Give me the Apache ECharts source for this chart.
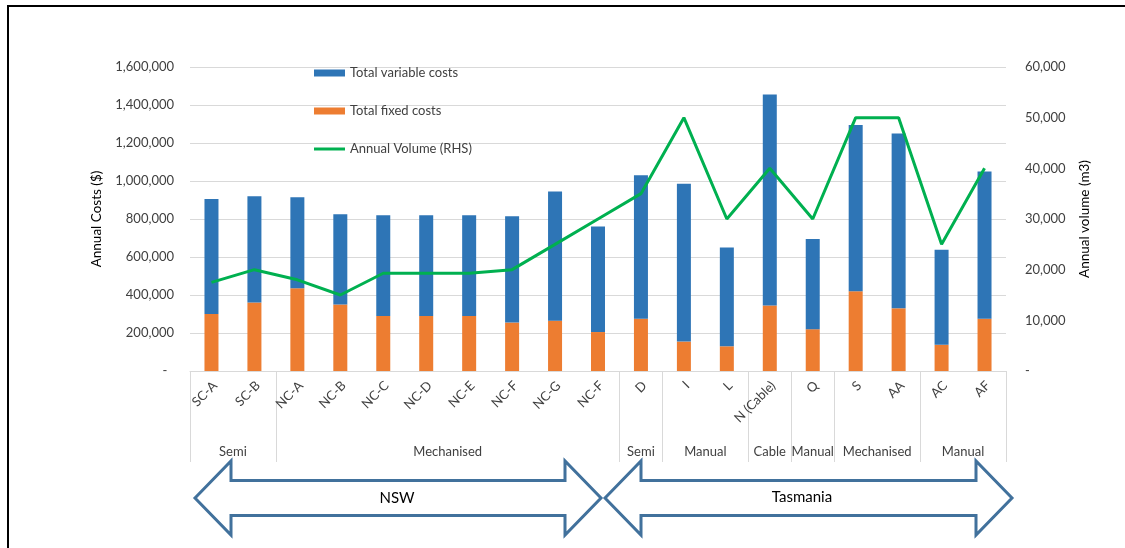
<!DOCTYPE html>
<html>
<head>
<meta charset="utf-8">
<script src="https://cdn.jsdelivr.net/npm/echarts@6/dist/echarts.min.js"></script>
<style>
  html, body { margin: 0; padding: 0; background: #fff; }
  #chart { width: 1125px; height: 548px; }
</style>
</head>
<body>
<div id="chart"></div>
<script>
// Harvest sites, grouped by system and by state
const categories = ['SC-A', 'SC-B', 'NC-A', 'NC-B', 'NC-C', 'NC-D', 'NC-E', 'NC-F', 'NC-G', 'NC-F',
  'D', 'I', 'L', 'N (Cable)', 'Q', 'S', 'AA', 'AC', 'AF'];

// Annual costs ($)
const fixedCosts = [300000, 360000, 435000, 350000, 290000, 290000, 290000, 255000, 265000, 205000,
  275000, 155000, 130000, 345000, 220000, 420000, 330000, 138000, 275000];
const variableCosts = [605000, 560000, 480000, 475000, 530000, 530000, 530000, 560000, 680000, 555000,
  755000, 830000, 520000, 1110000, 475000, 875000, 920000, 500000, 775000];

// Annual volume (m3)
const annualVolume = [17500, 20000, 18000, 15000, 19300, 19300, 19300, 20000, 25000, 30000,
  35000, 50000, 30000, 40000, 30000, 50000, 50000, 25000, 40000];

// Harvest system groups (consecutive runs of sites)
const groupNames = ['Semi', 'Mechanised', 'Semi', 'Manual', 'Cable', 'Manual', 'Mechanised', 'Manual'];
const groupSizes = [2, 8, 1, 2, 1, 1, 2, 2];

// Axis scales
const costAxis = { min: 0, max: 1600000, step: 200000 };
const volumeAxis = { min: 0, max: 60000, step: 10000 };

const FONT = 'Lato, "Open Sans", sans-serif';
const TEXT = '#404040';
const GRID = '#d9d9d9';

const groupEdges = [-0.5];
groupSizes.forEach(s => groupEdges.push(groupEdges[groupEdges.length - 1] + s));
const groupCenters = groupNames.map((n, i) => (groupEdges[i] + groupEdges[i + 1]) / 2);

const fmt = v => v.toLocaleString('en-US');

// Outline of a double-headed block arrow
function arrow(x0, x1, cy) {
  const head = 36, headHalf = 37, shaftHalf = 17.5;
  return [
    [x0, cy], [x0 + head, cy - headHalf], [x0 + head, cy - shaftHalf],
    [x1 - head, cy - shaftHalf], [x1 - head, cy - headHalf], [x1, cy],
    [x1 - head, cy + headHalf], [x1 - head, cy + shaftHalf],
    [x0 + head, cy + shaftHalf], [x0 + head, cy + headHalf]
  ];
}

const chart = echarts.init(document.getElementById('chart'), null, { renderer: 'canvas' });

chart.setOption({
  animation: false,
  backgroundColor: '#fff',
  textStyle: { fontFamily: FONT },
  grid: { left: 190, right: 119, top: 67, bottom: 177 },
  legend: {
    orient: 'vertical',
    left: 309,
    top: 60,
    itemWidth: 31,
    itemHeight: 7,
    itemGap: 22,
    textStyle: { fontFamily: FONT, fontSize: 13, color: TEXT, lineHeight: 16 },
    data: [
      { name: 'Total variable costs', icon: 'rect' },
      { name: 'Total fixed costs', icon: 'rect' },
      { name: 'Annual Volume (RHS)', icon: 'path://M0,0 L31,0 L31,3 L0,3 Z' }
    ]
  },
  xAxis: [
    {
      type: 'category',
      data: categories,
      boundaryGap: true,
      axisLine: { show: true, lineStyle: { color: GRID, width: 1 } },
      axisTick: { show: false },
      splitLine: { show: false },
      axisLabel: {
        interval: 0,
        rotate: 45,
        margin: 16,
        fontFamily: FONT,
        fontSize: 13,
        color: TEXT,
        padding: [0, -5, 0, 0]
      }
    },
    {
      type: 'value',
      position: 'bottom',
      min: groupEdges[0],
      max: groupEdges[groupEdges.length - 1],
      axisLine: { show: false },
      splitLine: { show: false },
      axisTick: {
        show: true,
        customValues: groupEdges,
        length: 91,
        lineStyle: { color: GRID, width: 1 }
      },
      axisLabel: {
        customValues: groupCenters,
        margin: 74,
        fontFamily: FONT,
        fontSize: 13,
        color: TEXT,
        formatter: v => {
          const i = groupCenters.indexOf(v);
          return i >= 0 ? groupNames[i] : '';
        }
      }
    }
  ],
  yAxis: [
    {
      type: 'value',
      min: costAxis.min,
      max: costAxis.max,
      interval: costAxis.step,
      name: 'Annual Costs ($)',
      nameLocation: 'middle',
      nameGap: 86,
      nameTextStyle: { fontFamily: FONT, fontSize: 13.5, color: '#000' },
      axisLine: { show: false },
      axisTick: { show: false },
      splitLine: { show: true, lineStyle: { color: GRID, width: 1 } },
      axisLabel: {
        margin: 16,
        fontFamily: FONT,
        fontSize: 13,
        color: TEXT,
        formatter: v => (v === 0 ? '-  ' : fmt(v))
      }
    },
    {
      type: 'value',
      min: volumeAxis.min,
      max: volumeAxis.max,
      interval: volumeAxis.step,
      name: 'Annual volume (m3)',
      nameLocation: 'middle',
      nameGap: 72,
      nameTextStyle: { fontFamily: FONT, fontSize: 13.5, color: '#000' },
      axisLine: { show: false },
      axisTick: { show: false },
      splitLine: { show: false },
      axisLabel: {
        margin: 19,
        fontFamily: FONT,
        fontSize: 13,
        color: TEXT,
        formatter: v => (v === 0 ? '-' : fmt(v))
      }
    }
  ],
  series: [
    {
      name: 'Total fixed costs',
      type: 'bar',
      stack: 'cost',
      barWidth: 14,
      itemStyle: { color: '#ED7D31' },
      data: fixedCosts
    },
    {
      name: 'Total variable costs',
      type: 'bar',
      stack: 'cost',
      barWidth: 14,
      itemStyle: { color: '#2E75B6' },
      data: variableCosts
    },
    {
      name: 'Annual Volume (RHS)',
      type: 'line',
      yAxisIndex: 1,
      symbol: 'none',
      lineStyle: { color: '#00B050', width: 3 },
      itemStyle: { color: '#00B050' },
      z: 5,
      data: annualVolume
    }
  ],
  graphic: [
    {
      type: 'rect',
      silent: true,
      shape: { x: 8, y: 6, width: 1140, height: 560 },
      style: { fill: 'none', stroke: '#000', lineWidth: 2 }
    },
    {
      type: 'polygon',
      shape: { points: arrow(195, 601, 498) },
      style: { fill: '#fff', stroke: '#41719C', lineWidth: 3 }
    },
    {
      type: 'text',
      x: 397, y: 498,
      style: { text: 'NSW', fontFamily: FONT, fontSize: 15, fill: '#000', align: 'center', verticalAlign: 'middle' }
    },
    {
      type: 'polygon',
      shape: { points: arrow(605, 1012, 498) },
      style: { fill: '#fff', stroke: '#41719C', lineWidth: 3 }
    },
    {
      type: 'text',
      x: 802, y: 497,
      style: { text: 'Tasmania', fontFamily: FONT, fontSize: 15, fill: '#000', align: 'center', verticalAlign: 'middle' }
    }
  ]
});
</script>
</body>
</html>
